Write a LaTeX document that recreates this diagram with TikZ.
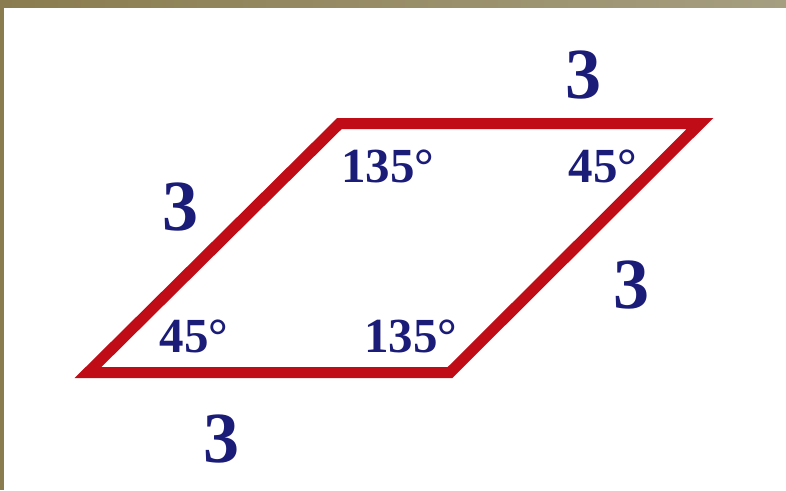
\documentclass[tikz,border=0pt]{standalone}
\usepackage{fontspec}
\setmainfont{Liberation Serif}
\definecolor{edgered}{HTML}{C00C16}
\definecolor{labelblue}{HTML}{1B1C78}
\definecolor{bandA}{HTML}{8A7C4E}
\definecolor{bandB}{HTML}{A59E80}
\tikzset{
  side/.style={draw=edgered, line width=11pt, line join=miter, miter limit=10},
  sidelabel/.style={anchor=base, inner sep=0pt, text=labelblue, font=\bfseries\fontsize{72}{72}\selectfont},
  anglelabel/.style={anchor=base, inner sep=0pt, text=labelblue, font=\bfseries\fontsize{49}{49}\selectfont},
}
\begin{document}
\begin{tikzpicture}[x=1pt, y=-1pt]
  \useasboundingbox (0,0) rectangle (786,490);
  \fill[white] (0,0) rectangle (786,490);
  % frame bands
  \shade[left color=bandA, right color=bandB, shading angle=90] (0,0) rectangle (786,7);
  \fill[bandA] (0,0) rectangle (4,490);
  % vertices
  \coordinate (BL) at (88,372.5);
  \coordinate (BR) at (450,372.5);
  \coordinate (TR) at (700,123.5);
  \coordinate (TL) at (339.5,123.5);
  \draw[side] (BL) -- (BR) -- (TR) -- (TL) -- cycle;
  % side labels
  \node[sidelabel] (ltop) at (583,98) {3};
  \node[sidelabel] (lleft) at (180,230) {3};
  \node[sidelabel] (lright) at (631,308) {3};
  \node[sidelabel] (lbottom) at (221,462) {3};
  % angle labels
  \node[anglelabel] (aTL) at (388,182) {135°};
  \node[anglelabel] (aTR) at (603,182) {45°};
  \node[anglelabel] (aBL) at (194,352) {45°};
  \node[anglelabel] (aBR) at (411,352) {135°};
\end{tikzpicture}
\end{document}
